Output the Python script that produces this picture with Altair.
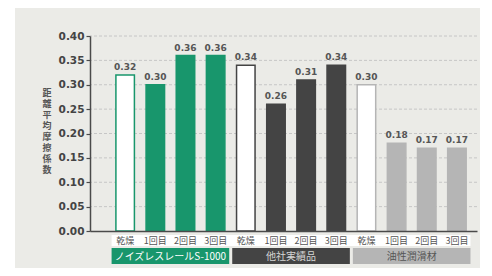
import altair as alt
import pandas as pd

# ---- data ----
groups = ["ノイズレスレールS-1000", "他社実績品", "油性潤滑材"]
conditions = ["乾燥", "1回目", "2回目", "3回目"]
vals_noiseless = [0.32, 0.30, 0.36, 0.36]
vals_other = [0.34, 0.26, 0.31, 0.34]
vals_oil = [0.30, 0.18, 0.17, 0.17]
y_ticks = [0.00, 0.05, 0.10, 0.15, 0.20, 0.25, 0.30, 0.35, 0.40]
y_title = "距離平均摩擦係数"

group_colors = ["#18966c", "#444444", "#b5b5b5"]
group_text_colors = ["#ffffff", "#d6d6d6", "#555555"]

# ---- tables ----
rows = []
for g, vals in enumerate([vals_noiseless, vals_other, vals_oil]):
    for i, (c, v) in enumerate(zip(conditions, vals)):
        rows.append({
            "group": groups[g], "cond": c, "v": v, "pos": g * 4 + i,
            "fill": "#ffffff" if i == 0 else group_colors[g],
            "stroke": group_colors[g],
        })
bars_df = pd.DataFrame(rows)

box_df = pd.DataFrame({
    "group": groups,
    "start": [g * 4 - 0.45 for g in range(3)],
    "end": [g * 4 + 3.45 for g in range(3)],
    "mid": [g * 4 + 1.5 for g in range(3)],
    "color": group_colors,
    "tcolor": group_text_colors,
})
strip_df = pd.DataFrame({"start": [box_df["start"].min()], "end": [box_df["end"].max()]})
grid_df = pd.DataFrame({"v": y_ticks[1:]})

W, H = 387, 195
xscale = alt.Scale(domain=[-1, 11.5], nice=False, zero=False)
yscale = alt.Scale(domain=[0, 0.4], nice=False)

NUMFONT = "DejaVu Sans"
CJK = "Noto Sans CJK JP"

yaxis = alt.Axis(values=y_ticks, format=".2f", grid=False, title=None,
                 domainColor="#4a4a4a", domainWidth=1.5,
                 tickColor="#4a4a4a", tickSize=4, tickWidth=1.2,
                 labelFont=NUMFONT, labelFontWeight="bold", labelFontSize=10.5,
                 labelColor="#444444", labelPadding=2, labelOverlap=False,
                 labelFlush=False, zindex=1)
xaxis = alt.Axis(labels=False, ticks=False, grid=False, title=None,
                 domainColor="#4a4a4a", domainWidth=1.5, zindex=1)
Y = lambda: alt.Y("v:Q", scale=yscale, axis=yaxis)
X = lambda f="pos:Q": alt.X(f, scale=xscale, axis=xaxis)

panel = alt.Chart(pd.DataFrame({"a": [0]})).mark_rect(color="#ebebe7").encode(
    x=alt.value(-75), x2=alt.value(390), y=alt.value(-28), y2=alt.value(232)
)

grid = alt.Chart(grid_df).mark_rule(color="#c6c6c6", strokeDash=[3, 2], strokeWidth=1).encode(
    y=Y()
)

bars = alt.Chart(bars_df).mark_bar(size=18.5, strokeWidth=1.5).encode(
    x=X(),
    y=Y(),
    fill=alt.Fill("fill:N", scale=None),
    stroke=alt.Stroke("stroke:N", scale=None),
)

vlabels = alt.Chart(bars_df).mark_text(
    font=NUMFONT, fontWeight="bold", fontSize=9, color="#555555", baseline="bottom", dy=-3
).encode(
    x=X(),
    y=Y(),
    text=alt.Text("v:Q", format=".2f"),
)

strip = alt.Chart(strip_df).mark_rect(color="#ffffff").encode(
    x=X("start:Q"), x2="end:Q", y=alt.value(199), y2=alt.value(210)
)

clabels = alt.Chart(bars_df).mark_text(
    font=CJK, fontSize=9, color="#555555", baseline="middle"
).encode(
    x=X(), y=alt.value(204.5), text="cond:N"
)

boxes = alt.Chart(box_df).mark_rect().encode(
    x=X("start:Q"), x2="end:Q",
    y=alt.value(212), y2=alt.value(228),
    color=alt.Color("color:N", scale=None),
)

btext = alt.Chart(box_df).mark_text(font=CJK, fontSize=10, baseline="middle").encode(
    x=X("mid:Q"), y=alt.value(220.5), text="group:N",
    color=alt.Color("tcolor:N", scale=None),
)

ytitle = alt.Chart(pd.DataFrame({"a": [0]})).mark_text(
    font=CJK, fontSize=9, fontWeight="bold", color="#555555",
    baseline="top", align="center", lineHeight=11
).encode(
    x=alt.value(-43), y=alt.value(53), text=alt.value(list(y_title))
)

chart = alt.layer(panel, grid, bars, vlabels, strip, clabels, boxes, btext, ytitle).properties(
    width=W, height=H,
    autosize=alt.AutoSizeParams(type="none"),
    padding={"left": 82, "top": 28, "right": 7, "bottom": 40},
    background="#ffffff",
).configure_view(stroke=None)

chart.save("out.html", embed_options={"renderer": "svg", "actions": False})
